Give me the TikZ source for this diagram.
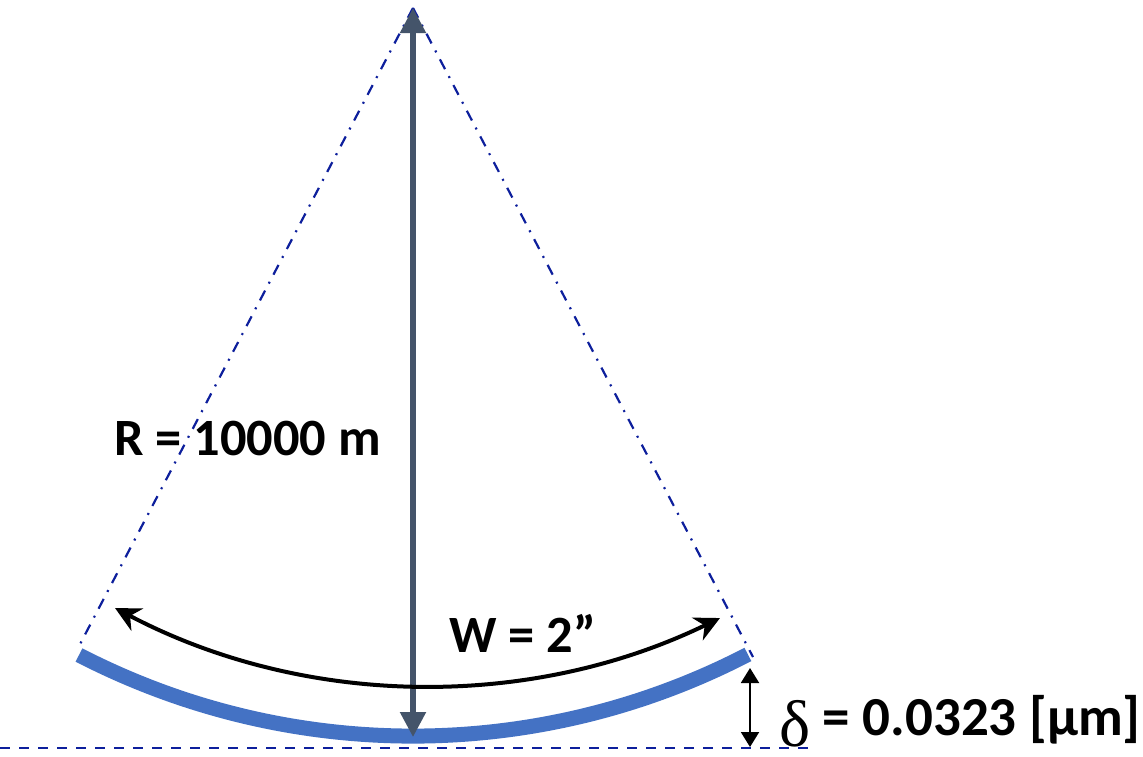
\documentclass[tikz,border=0pt]{standalone}
\usepackage{fontspec}
\setmainfont{Carlito}
\newfontfamily\greekserif{Liberation Serif}
\usepackage{xcolor}
\usetikzlibrary{arrows.meta, calc}
\definecolor{C_PLATE}{HTML}{4472C4}
\definecolor{C_RAD}{HTML}{44546A}
\definecolor{C_GUIDE}{HTML}{0D1F9C}

\begin{document}
\begin{tikzpicture}[
  x=0.5pt, y=-0.5pt,
  guide/.style={color=C_GUIDE, line width=1.1pt,
                dash pattern=on 5.5pt off 4pt on 1pt off 4pt},
  base/.style={color=C_GUIDE, line width=1.3pt, dash pattern=on 5pt off 4.5pt},
  plate/.style={color=C_PLATE, line width=7.5pt},
  rad/.style={{Triangle[length=12.5pt,width=12.5pt]}-{Triangle[length=12.5pt,width=12.5pt]},
              color=C_RAD, line width=2.6pt},
  span/.style={{Stealth[length=12.5pt,width=12.5pt,inset=4pt]}-{Stealth[length=12.5pt,width=12.5pt,inset=4pt]},
               line width=2pt},
  gap/.style={{Triangle[length=7.5pt,width=9pt]}-{Triangle[length=7.5pt,width=9pt]}, line width=1pt},
  lbl/.style={font=\fontsize{26.2}{30}\selectfont\bfseries, inner sep=0pt},
]
\useasboundingbox (0,0) rectangle (1143,756);

%% Points
\coordinate (apex) at (413,8);
\coordinate (bottom) at (413,737);
\coordinate (gl) at (78,648);
\coordinate (gr) at (753,657);
\coordinate (pl) at (79,655);
\coordinate (wl) at (115,608);
\coordinate (dtop) at (750,668);
\coordinate (dbot) at (750,747);
\coordinate (bl) at (0,748);
\coordinate (br) at (808,748);

%% Radius label
\node[lbl, anchor=base west] (rlabel) at (114,455) {R = 10000 m};

%% Guides
\draw[guide] (apex) -- (gl);
\draw[guide] (apex) -- (gr);
\draw[base] (bl) -- (br);

%% Plate
\draw[plate] (pl) arc[start angle=117.3, end angle=62.6, radius=728];

%% Radius arrow
\draw[rad] (apex) -- (bottom);

%% Width arc
\draw[span] (wl) arc[start angle=117.75, end angle=64.15, radius=671];
\node[lbl, anchor=base west] (wlabel) at (449,652) {W = 2”};

%% Sag
\draw[gap] (dtop) -- (dbot);
\node[lbl, font=\fontsize{27.5}{30}\selectfont\bfseries, anchor=base west] (dlabel) at (779,735)
      {\raisebox{-5.5pt}{\greekserif\mdseries\fontsize{33}{36}\selectfont δ} = 0.0323 [μm]};

\end{tikzpicture}
\end{document}
